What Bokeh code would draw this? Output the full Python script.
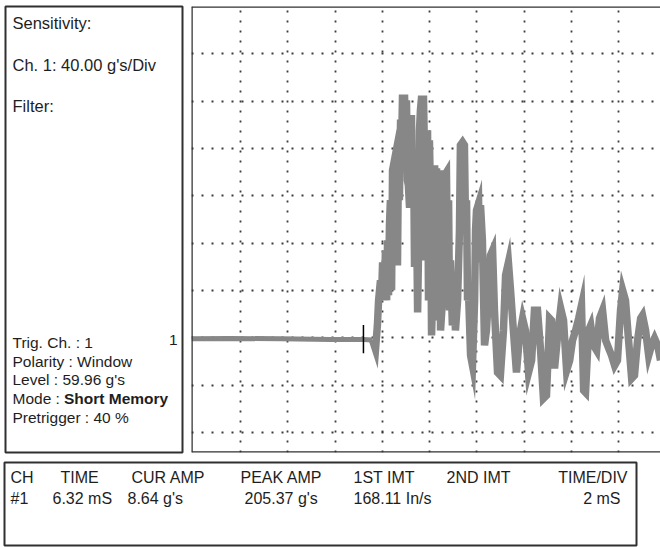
from bokeh.plotting import figure
from bokeh.models import Range1d, Label, Span, Grid, FixedTicker
from bokeh.layouts import column, row
from bokeh.embed import file_html
from bokeh.resources import INLINE

# ---------------- data (time in ms from left edge of record, acceleration in g) -------------
pre_time_ms = [-0.07, 1.58, 3.69, 5.81, 7.20, 7.58]
pre_accel_g = [-0.8, -0.4, -0.8, -1.3, -1.3, -1.7]

time_ms = [7.58, 7.71, 7.79, 7.84, 7.92, 7.96, 8.01, 8.09, 8.13, 8.18, 8.22, 8.26, 8.30, 8.34,
           8.39, 8.43, 8.47, 8.51, 8.56, 8.60, 8.64, 8.68, 8.72, 8.77, 8.81, 8.85, 8.94, 8.98,
           9.02, 9.06, 9.10, 9.15, 9.19, 9.23, 9.27, 9.32, 9.36, 9.40, 9.44, 9.49, 9.53, 9.57,
           9.61, 9.65, 9.74, 9.78, 9.82, 9.87, 9.91, 9.95, 9.99, 10.04, 10.08, 10.12, 10.16,
           10.21, 10.25, 10.29, 10.33, 10.38, 10.42, 10.46, 10.54, 10.59, 10.63, 10.71, 10.75,
           10.80, 10.84, 10.88, 10.96, 11.05, 11.09, 11.18, 11.26, 11.30, 11.39, 11.47, 11.52,
           11.56, 11.60, 11.64, 11.73, 11.81, 11.90, 11.94, 11.98, 12.07, 12.11, 12.15, 12.23,
           12.32, 12.40, 12.49, 12.57, 12.66, 12.74, 12.87, 12.99, 13.12,
           13.21, 13.33, 13.42, 13.54, 13.67, 13.80, 13.93, 14.05, 14.18, 14.31, 14.43, 14.56,
           14.69, 14.81, 14.94, 15.07, 15.15, 15.28, 15.41, 15.54, 15.66, 15.79, 15.92, 16.04,
           16.17, 16.30, 16.42, 16.51, 16.59, 16.72, 16.81, 16.93, 17.06, 17.18, 17.31, 17.44,
           17.57, 17.69, 17.82, 17.94, 18.07, 18.16, 18.28, 18.41, 18.54, 18.66, 18.79, 18.92,
           19.00, 19.13, 19.26, 19.38, 19.51, 19.64, 19.76]
accel_g = [-1.7, -9.7, 10.6, 31.7, 48.6, 31.7, 63.8, 40.2, 74.0, 31.7, 82.5, 35.9, 95.1, 116.3,
           40.2, 141.6, 145.8, 95.0, 150.1, 82.5, 61.3, 154.3, 116.3, 184.5, 158.6, 202.5, 202.5, 167.0,
           200.8, 133.2, 129.0, 110.0, 167.0, 188.2, 116.3, 158.6, 60.0, 141.6, 116.3, 21.6, 74.0, 175.5,
           192.6, 201.7, 201.7, 158.6, 65.5, 141.6, 175.5, 31.7, 167.0, 116.3, 2.1, 31.7, 133.2,
           145.8, 74.0, 143.3, 14.8, 116.3, 141.6, 6.3, 31.7, 116.3, 137.4, 140.0, 65.5,
           116.3, 23.3, 65.5, 10.6, 31.7, 6.3, 31.7, 90.9, 162.8, 165.3, 162.8, 90.9,
           116.3, 31.7, 40.2, -14.8, -23.3, 31.7, 90.9, 107.8, 113.7, 63.8, 112.1, 82.5,
           -6.3, 6.3, 35.9, 69.8, 74.0, 23.3, -29.2, -31.7, 6.3,
           52.9, 63.8, 40.2, 6.3, -29.2, 2.1, 16.5, 6.3, -29.2, -19.0, 23.3, 23.3,
           -10.6, -51.2, -48.6, 16.5, 14.8, -25.8, 2.1, 24.9, 14.8, -27.5, -19.0, -2.1,
           6.3, 16.5, 27.5, -44.4, -46.1, 6.3, 10.6, -6.3, -10.6, 16.5, 23.3, -2.1,
           -8.9, -14.8, -23.3, -19.0, 23.3, 40.2, 31.7, -2.1, -34.3, -31.7, -2.1, 16.5,
           19.0, 6.3, -14.8, -6.3, -0.4, -6.3, -19.0]

trigger_time_ms = 7.20
trigger_marker_g = [11.0, -13.0]

x_grid_ms = [2, 4, 6, 8, 10, 12, 14, 16, 18]          # 2 mS / div
y_grid_g = [-80, -40, 0, 40, 80, 120, 160, 200, 240]  # 40 g's / div
x_extent = [-0.07, 19.76]
y_extent = [-96.8, 280.0]

info_top = ["Sensitivity:", "Ch. 1: 40.00 g's/Div", "Filter:"]
info_bottom = ["Trig. Ch. : 1", "Polarity : Window", "Level :  59.96 g's", "Mode :", "Pretrigger : 40 %"]
mode_value = "Short Memory"
channel_mark = "1"

table_headers = ["CH", "TIME", "CUR AMP", "PEAK AMP", "1ST IMT", "2ND IMT", "TIME/DIV"]
table_values = ["#1", "6.32 mS", "8.64 g's", "205.37 g's", "168.11 In/s", "", "2 mS"]

SANS = "Liberation Sans, Arial, sans-serif"
INK = "#1e1e1e"
FRAME = "#303030"

# ---------------- left info panel -------------
left = figure(width=187, height=455, x_range=Range1d(0, 177), y_range=Range1d(446, 0),
              output_backend="svg", toolbar_location=None,
              x_axis_location=None, y_axis_location=None,
              min_border_left=5, min_border_right=5, min_border_top=6, min_border_bottom=3)
left.xgrid.visible = False
left.ygrid.visible = False
left.outline_line_color = FRAME
left.outline_line_width = 2

for txt, yy in zip(info_top, [16.5, 58.5, 99.5]):
    left.add_layout(Label(x=7, y=yy, text=txt, text_font=SANS, text_font_size="16.5px",
                          text_baseline="alphabetic", text_color=INK))
for txt, yy in zip(info_bottom, [336, 354.5, 373, 391.5, 410.5]):
    left.add_layout(Label(x=7, y=yy, text=txt, text_font=SANS, text_font_size="15.5px",
                          text_baseline="alphabetic", text_color=INK))
left.add_layout(Label(x=58.5, y=391.5, text=mode_value, text_font=SANS, text_font_size="15.5px",
                      text_font_style="bold", text_baseline="alphabetic", text_color=INK))
left.add_layout(Label(x=172, y=333, text=channel_mark, text_font=SANS, text_font_size="15.5px",
                      text_align="right", text_baseline="alphabetic", text_color=INK))

# ---------------- main trace plot -------------
p = figure(width=473, height=455, x_range=Range1d(*x_extent), y_range=Range1d(*y_extent),
           output_backend="svg", toolbar_location=None,
           x_axis_location=None, y_axis_location=None,
           min_border_left=4, min_border_right=0, min_border_top=6, min_border_bottom=3)
p.xgrid.visible = False
p.ygrid.visible = False
p.outline_line_color = None

p.add_layout(Grid(dimension=0, ticker=FixedTicker(ticks=x_grid_ms), grid_line_color="#3c3c3c",
                  grid_line_width=1.8, grid_line_dash="2 8"))
p.add_layout(Grid(dimension=1, ticker=FixedTicker(ticks=y_grid_g), grid_line_color="#3c3c3c",
                  grid_line_width=1.8, grid_line_dash="2 8"))

p.add_layout(Span(location=x_extent[0], dimension="height", line_color=FRAME, line_width=2.5))
p.add_layout(Span(location=y_extent[1], dimension="width", line_color=FRAME, line_width=2.5))
p.add_layout(Span(location=y_extent[0], dimension="width", line_color=FRAME, line_width=2.5))

TRACE = "#878787"
p.line(pre_time_ms, pre_accel_g, line_color=TRACE, line_width=5)
p.line(time_ms, accel_g, line_color=TRACE, line_width=7.5, line_join="miter")
p.segment(x0=[trigger_time_ms], y0=[trigger_marker_g[0]], x1=[trigger_time_ms], y1=[trigger_marker_g[1]],
          line_color="#000000", line_width=1.5)

# ---------------- bottom readout table -------------
bot = figure(width=660, height=92, x_range=Range1d(0, 632), y_range=Range1d(83, 0),
             output_backend="svg", toolbar_location=None,
             x_axis_location=None, y_axis_location=None,
             min_border_left=4, min_border_right=24, min_border_top=7, min_border_bottom=2)
bot.xgrid.visible = False
bot.ygrid.visible = False
bot.outline_line_color = FRAME
bot.outline_line_width = 2

head_x = [6, 56, 127, 236, 349, 442, 623]
head_align = ["left", "left", "left", "left", "left", "left", "right"]
val_x = [6, 48, 123, 240, 349, 440, 616]
val_align = ["left", "left", "left", "left", "left", "left", "right"]
for txt, xx, al in zip(table_headers, head_x, head_align):
    bot.add_layout(Label(x=xx, y=15, text=txt, text_font=SANS, text_font_size="16px",
                         text_align=al, text_baseline="alphabetic", text_color=INK))
for txt, xx, al in zip(table_values, val_x, val_align):
    if txt:
        bot.add_layout(Label(x=xx, y=36, text=txt, text_font=SANS, text_font_size="16px",
                             text_align=al, text_baseline="alphabetic", text_color=INK))

layout = column(row(left, p, spacing=0), bot, spacing=0)
open("out.html", "w").write(file_html(layout, INLINE))
